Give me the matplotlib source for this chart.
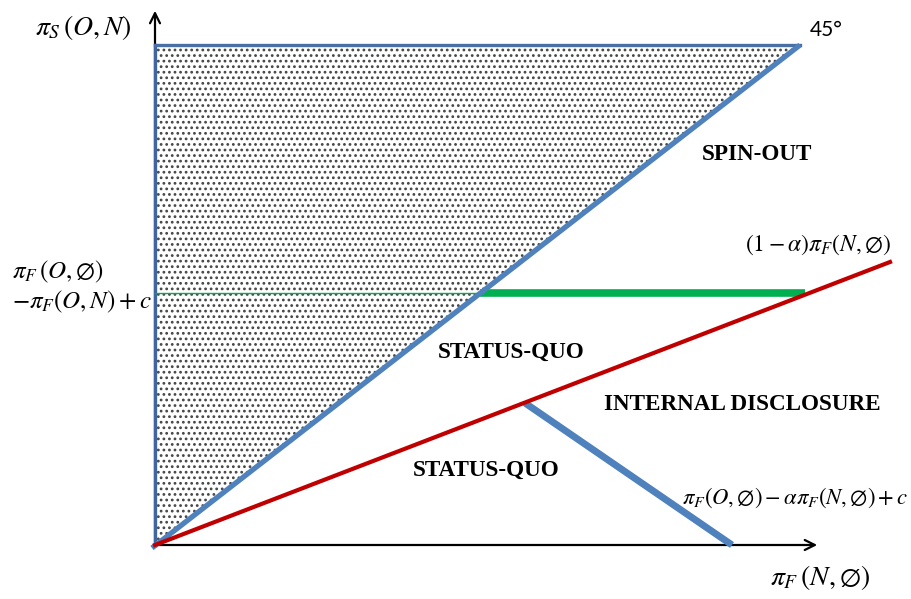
import matplotlib.pyplot as plt
from matplotlib.patches import Polygon

plt.rcParams['mathtext.fontset'] = 'stix'
plt.rcParams['hatch.linewidth'] = 1.2

# region geometry (payoff space, origin at 0,0)
axis_end = [665, 537]
shaded_region = [(0, 0), (0, 500), (645, 500)]
diag_end = [645, 500]
threshold_y = 252
threshold_split_x = 325
threshold_end_x = 650
red_line_end = [735, 283]
blue_seg_start = [370, 142]
blue_seg_end = [577, 0]

fig = plt.figure(figsize=(9.11, 5.99), dpi=100)
# 1 data unit == 1 pixel
ax = fig.add_axes([0, 0, 1, 1])
ax.set_xlim(-155, 756)
ax.set_ylim(-54, 545)
ax.axis('off')

# dotted triangle (spin-out region)
tri = Polygon(shaded_region, closed=True, facecolor='white', edgecolor='#444444',
              linewidth=0, hatch='...', zorder=1)
ax.add_patch(tri)

# axes with arrows
ax.annotate('', xy=(axis_end[0], 0), xytext=(-1, 0),
            arrowprops=dict(arrowstyle='->', lw=1.6, color='black', mutation_scale=18), zorder=2)
ax.annotate('', xy=(0, axis_end[1]), xytext=(0, -1),
            arrowprops=dict(arrowstyle='->', lw=1.6, color='black', mutation_scale=18), zorder=2)

# triangle edges
ax.plot([0, 0], [0, shaded_region[1][1]], color='#3F66A0', lw=2.4, zorder=3)
ax.plot([0, shaded_region[2][0]], [500, 500], color='#4A6FA5', lw=2.4, zorder=3)
ax.plot([-3, diag_end[0]], [-3, diag_end[1]], color='#4F81BD', lw=3.8, zorder=4,
        solid_capstyle='butt')

# threshold line
ax.plot([0, threshold_split_x], [threshold_y, threshold_y], color='#00B050', lw=1.0, zorder=3)
ax.plot([threshold_split_x, threshold_end_x], [threshold_y, threshold_y], color='#00B050',
        lw=5.5, zorder=3, solid_capstyle='butt')

# red and blue boundaries
ax.plot([0, red_line_end[0]], [0, red_line_end[1]], color='#C00000', lw=3.0, zorder=5)
ax.plot([blue_seg_start[0], blue_seg_end[0]], [blue_seg_start[1], blue_seg_end[1]],
        color='#4F81BD', lw=5.0, zorder=4, solid_capstyle='butt')

# labels
ax.text(-120, 517, r'$\pi_S\,(O,N)$', fontsize=20, ha='left', va='center')
ax.text(-143, 273, r'$\pi_F\,(O,\varnothing)$', fontsize=18, ha='left', va='center')
ax.text(-143, 243, r'$-\pi_F(O,N)+c$', fontsize=18, ha='left', va='center')
ax.text(655, 515, '45°', fontsize=15, family='Lato', ha='left', va='center')
ax.text(590, 300, r'$(1-\alpha)\pi_F(N,\varnothing)$', fontsize=17, ha='left', va='center')
ax.text(527, 47, r'$\pi_F(O,\varnothing)-\alpha\pi_F(N,\varnothing)+c$', fontsize=16.3,
        ha='left', va='center')
ax.text(615, -33, r'$\pi_F\,(N,\varnothing)$', fontsize=20, ha='left', va='center')

bold = dict(fontsize=16.7, fontweight='bold', family='Liberation Serif', ha='center', va='center')
ax.text(602, 390, 'SPIN-OUT', **bold)
ax.text(356, 193, 'STATUS-QUO', **bold)
ax.text(587, 140, 'INTERNAL DISCLOSURE', **bold)
ax.text(331, 75, 'STATUS-QUO', **bold)

fig.savefig('out.png', dpi=100)
